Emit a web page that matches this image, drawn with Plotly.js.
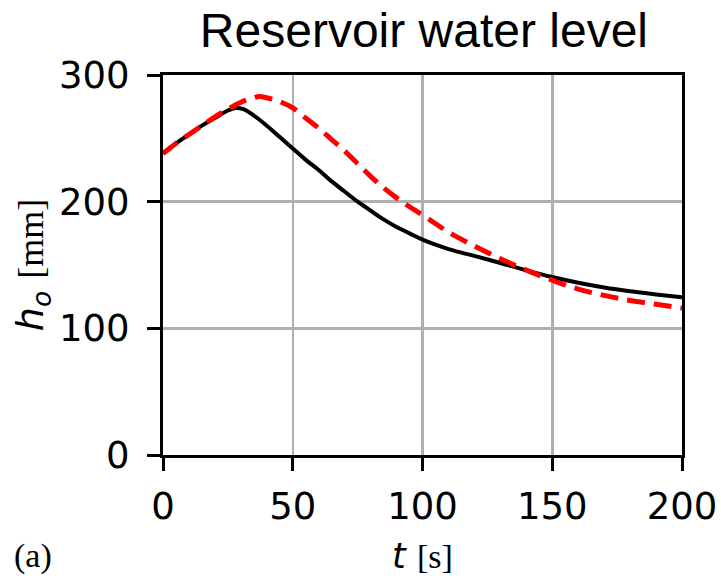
<!DOCTYPE html>
<html>
<head>
<meta charset="utf-8">
<script src="https://cdn.plot.ly/plotly-3.0.1.min.js"></script>
<style>html,body{margin:0;padding:0;background:#fff;}#chart{width:721px;height:581px;}</style>
</head>
<body>
<div id="chart"></div>
<script>
const tBlack = [0,5,10,15,20,25,28,31,35,40,45,50,55,60,65,70,75,80,85,90,95,100,105,110,115,120,130,140,150,160,170,180,190,200];
const hBlack = [238,246,253,260,266,272,274,273,268,260,251,242,233,225,216,208,200,193,186,180,175,170,166,162.6,159.8,157.2,151.6,145.8,140.5,136,132.3,129.3,126.8,124.5];
const tRed = [0,5,10,15,20,25,30,35,37,40,45,50,55,60,65,70,75,80,85,90,95,100,110,120,130,140,150,160,170,180,190,200];
const hRed = [238,246,253,260,267,273,278.5,282,283,282,279,274,266,258,249,240,230,220,211,203,196,189.5,176,165,155,146,138,131,126,122,119,116];
const xTicks = [0,50,100,150,200];
const yTicks = [0,100,200,300];

const traces = [
  {x: tBlack, y: hBlack, mode: 'lines', line: {color: '#000000', width: 4, shape: 'spline'}, showlegend: false},
  {x: tRed, y: hRed, mode: 'lines', line: {color: '#ff0000', width: 5, dash: '18px,9px', shape: 'spline'}, showlegend: false}
];

const axisCommon = {
  showline: true, mirror: true, linecolor: '#000', linewidth: 3,
  showgrid: true, gridcolor: '#b0b0b0', gridwidth: 2.5,
  ticks: 'outside', ticklen: 13, tickwidth: 3, tickcolor: '#000',
  tickfont: {family: 'DejaVu Sans', size: 37, color: '#000'},
  zeroline: false
};

const layout = {
  width: 721, height: 581,
  margin: {l: 163, r: 39, t: 75, b: 126},
  paper_bgcolor: '#fff', plot_bgcolor: '#fff',
  title: {text: 'Reservoir water level', font: {family: 'Liberation Sans', size: 48, color: '#000'}, x: 0.588, xanchor: 'center', y: 0.948, yanchor: 'middle'},
  xaxis: Object.assign({}, axisCommon, {range: [0, 200], tickvals: xTicks, ticktext: xTicks.map(String), ticklabelstandoff: 4}),
  yaxis: Object.assign({}, axisCommon, {range: [0, 300], tickvals: yTicks, ticktext: yTicks.map(String), ticklabelstandoff: 10}),
  annotations: [
    {xref: 'paper', yref: 'paper', x: 0.5, y: -0.266, xanchor: 'center', yanchor: 'middle', showarrow: false,
     text: '<i>t</i> <span style="font-family:Liberation Serif;font-size:34px">[s]</span>',
     font: {family: 'DejaVu Sans', size: 35, color: '#000'}},
    {xref: 'paper', yref: 'paper', x: -0.252, y: 0.5, xanchor: 'center', yanchor: 'middle', showarrow: false, textangle: -90,
     text: '<i>h</i><sub><i>o</i></sub> <span style="font-family:Liberation Serif;font-size:36px">[mm]</span>',
     font: {family: 'DejaVu Sans', size: 38, color: '#000'}},
    {xref: 'paper', yref: 'paper', x: -0.29, y: -0.266, xanchor: 'left', yanchor: 'middle', showarrow: false,
     text: '(a)', font: {family: 'Liberation Serif', size: 34, color: '#000'}}
  ]
};

Plotly.newPlot('chart', traces, layout, {displayModeBar: false, staticPlot: true});
</script>
</body>
</html>
